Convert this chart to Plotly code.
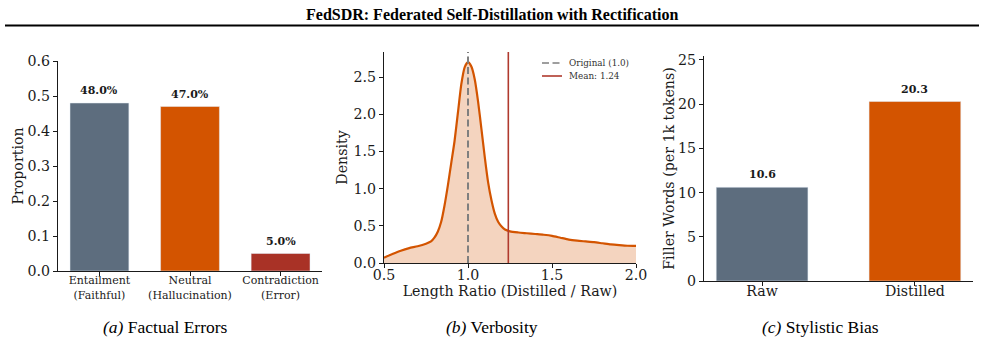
import plotly.graph_objects as go

# ---------------- data ----------------
err_categories = ["Entailment<br>(Faithful)", "Neutral<br>(Hallucination)", "Contradiction<br>(Error)"]
err_values = [0.48, 0.47, 0.05]
err_colors = ["#5d6d7e", "#d35400", "#a93226"]

ratio_x = [0.5, 0.55, 0.6, 0.65, 0.7, 0.75, 0.78, 0.8, 0.82, 0.84, 0.86, 0.88, 0.9, 0.92,
           0.94, 0.96, 0.98, 1.0, 1.02, 1.04, 1.06, 1.08, 1.1, 1.12, 1.14, 1.16, 1.18, 1.2,
           1.22, 1.25, 1.3, 1.35, 1.4, 1.45, 1.5, 1.55, 1.6, 1.65, 1.7, 1.75, 1.8, 1.85,
           1.9, 1.95, 2.0]
ratio_density = [0.07, 0.12, 0.165, 0.20, 0.225, 0.26, 0.29, 0.34, 0.42, 0.55, 0.77, 1.04,
                 1.34, 1.64, 2.02, 2.40, 2.63, 2.70, 2.64, 2.47, 2.17, 1.80, 1.42, 1.08,
                 0.84, 0.66, 0.55, 0.49, 0.45, 0.425, 0.41, 0.40, 0.39, 0.38, 0.365, 0.34,
                 0.315, 0.30, 0.29, 0.28, 0.265, 0.25, 0.24, 0.232, 0.229]
original_ratio = 1.0
mean_ratio = 1.24

style_categories = ["Raw", "Distilled"]
style_values = [10.6, 20.3]
style_colors = ["#5d6d7e", "#d35400"]

# ---------------- figure ----------------
W, H = 985, 343
def px(x):
    return x / W
def py(y):
    return 1 - y / H

SERIF = "DejaVu Serif"
TIMES = "Liberation Serif"
INK = "#1a1a1a"
FS = 14.2
DASH = "7px,3.5px"

fig = go.Figure()

# (a) factual errors
fig.add_trace(go.Bar(x=err_categories, y=err_values, marker_color=err_colors,
                     width=0.65, xaxis="x", yaxis="y", showlegend=False))
# (b) verbosity
fig.add_trace(go.Scatter(x=ratio_x, y=ratio_density, mode="lines",
                         line=dict(color="#d35400", width=2.2, shape="spline", smoothing=0.6),
                         fill="tozeroy", fillcolor="rgba(211,84,0,0.25)", xaxis="x2", yaxis="y2", showlegend=False))
# (c) stylistic bias
fig.add_trace(go.Bar(x=style_categories, y=style_values, marker_color=style_colors,
                     width=0.6, xaxis="x3", yaxis="y3", showlegend=False))

axis_common = dict(showline=True, linecolor=INK, linewidth=1.1, ticks="outside", ticklen=4,
                   tickcolor=INK, tickwidth=1, showgrid=False, zeroline=False, automargin=False,
                   tickfont=dict(family=SERIF, size=FS, color=INK))
title_font = dict(family=SERIF, size=FS, color=INK)

fig.update_layout(
    width=W, height=H, margin=dict(l=0, r=0, t=0, b=0, autoexpand=False),
    paper_bgcolor="white", plot_bgcolor="white",
    xaxis=dict(domain=[px(58), px(322)], anchor="y", range=[-0.4575, 2.4575], ticklabelstandoff=-5,
               **{**axis_common, "tickfont": dict(family=SERIF, size=11, color=INK)}),
    yaxis=dict(domain=[py(271), py(61)], anchor="x", range=[0, 0.6], dtick=0.1, tickformat=".1f",
               title=dict(text="Proportion", font=title_font, standoff=0), **axis_common),
    xaxis2=dict(domain=[px(384), px(636)], anchor="y2", range=[0.5, 2.0], dtick=0.5, tickformat=".1f",
                ticklabelstandoff=-5,
                title=dict(text="Length Ratio (Distilled / Raw)", font=title_font, standoff=0), **axis_common),
    yaxis2=dict(domain=[py(263), py(52)], anchor="x2", range=[0, 2.836], dtick=0.5, tickformat=".1f",
                title=dict(text="Density", font=title_font, standoff=2), **axis_common),
    xaxis3=dict(domain=[px(704), px(973)], anchor="y3", range=[-0.38, 1.38], ticklabelstandoff=-7,
                **axis_common),
    yaxis3=dict(domain=[py(281), py(56)], anchor="x3", range=[0, 25.45], dtick=5,
                title=dict(text="Filler Words (per 1k tokens)", font=title_font, standoff=0), **axis_common),
)

shapes = []
annotations = []

# title + rule
annotations.append(dict(text="<b>FedSDR: Federated Self-Distillation with Rectification</b>", x=px(492), y=py(14),
                        xref="paper", yref="paper", showarrow=False, xanchor="center", yanchor="middle",
                        font=dict(family=TIMES, size=16, color="black")))
shapes.append(dict(type="line", xref="paper", yref="paper", x0=px(5), x1=px(979), y0=py(25.5), y1=py(25.5),
                   line=dict(color="black", width=2)))

# bar labels
for c, v in zip(err_categories, err_values):
    annotations.append(dict(text=f"<b>{v*100:.1f}%</b>", x=c, y=v, xref="x", yref="y", showarrow=False,
                            xanchor="center", yanchor="bottom", yshift=4,
                            font=dict(family=SERIF, size=11, color=INK)))
for c, v in zip(style_categories, style_values):
    annotations.append(dict(text=f"<b>{v:.1f}</b>", x=c, y=v, xref="x3", yref="y3", showarrow=False,
                            xanchor="center", yanchor="bottom", yshift=4,
                            font=dict(family=SERIF, size=11, color=INK)))

# reference lines in (b)
shapes.append(dict(type="line", xref="x2", yref="y2 domain", x0=original_ratio, x1=original_ratio, y0=0, y1=1,
                   line=dict(color="#7f7f7f", width=2, dash=DASH)))
shapes.append(dict(type="line", xref="x2", yref="y2 domain", x0=mean_ratio, x1=mean_ratio, y0=0, y1=1,
                   line=dict(color="#b03a2e", width=1.6)))

# manual legend in (b)
legend_items = [(f"Original ({original_ratio:.1f})", "#7f7f7f", DASH, 63),
                (f"Mean: {mean_ratio:.2f}", "#b03a2e", "solid", 76)]
for label, col, dash, yy in legend_items:
    shapes.append(dict(type="line", xref="paper", yref="paper", x0=px(542), x1=px(562), y0=py(yy), y1=py(yy),
                       line=dict(color=col, width=1.6, dash=dash)))
    annotations.append(dict(text=label, x=px(567), y=py(yy), xref="paper", yref="paper", showarrow=False,
                            xanchor="left", yanchor="middle", font=dict(family=SERIF, size=8.8, color="#333333")))

# captions
for label, cx in [("<i>(a)</i> Factual Errors", 165), ("<i>(b)</i> Verbosity", 492), ("<i>(c)</i> Stylistic Bias", 820)]:
    annotations.append(dict(text=label, x=px(cx), y=py(327), xref="paper", yref="paper", showarrow=False,
                            xanchor="center", yanchor="middle", font=dict(family=TIMES, size=17.5, color="black")))

fig.update_layout(shapes=shapes, annotations=annotations)
fig.write_html("out.html", post_script="document.body.style.margin='0';document.body.style.overflow='hidden';")
